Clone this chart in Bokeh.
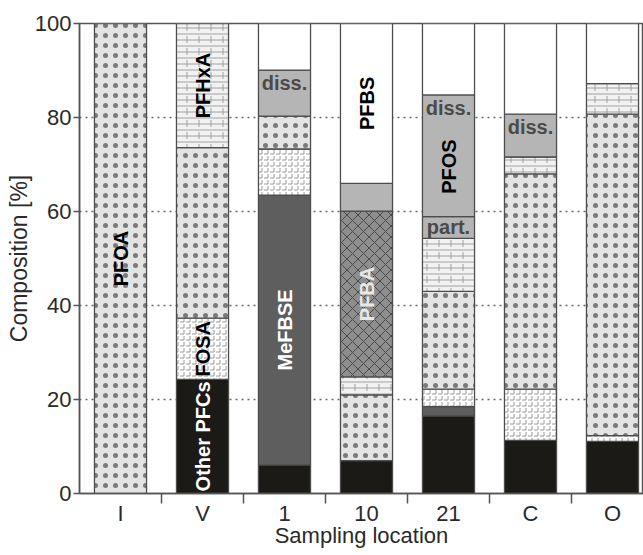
import numpy as np
from bokeh.plotting import figure
from bokeh.models import FixedTicker, ColumnDataSource
from bokeh.core.properties import value
from bokeh.embed import file_html
from bokeh.resources import INLINE

# ---------------- data (composition, %) ----------------
locations = ["I", "V", "1", "10", "21", "C", "O"]
other_pfcs = [0, 24.3, 6.1, 7.0, 16.5, 11.3, 11.1]
mefbse = [0, 0, 57.4, 0, 2.0, 0, 0]
fosa = [0, 13.0, 9.8, 0, 3.7, 10.9, 1.2]
pfoa = [100, 36.3, 7.0, 14.0, 20.8, 45.8, 68.4]
pfhxa = [0, 26.4, 0, 3.8, 11.3, 3.6, 6.5]
pfba = [0, 0, 0, 35.3, 0, 0, 0]
pfos_part = [0, 0, 0, 0, 4.6, 0, 0]
pfos_diss = [0, 0, 9.8, 5.9, 25.9, 9.1, 0]
pfbs = [0, 0, 9.9, 34.0, 15.2, 19.3, 12.8]

series_names = ["Other PFCs", "MeFBSE", "FOSA", "PFOA", "PFHxA", "PFBA",
                "PFOS part.", "PFOS diss.", "PFBS"]
series_values = [other_pfcs, mefbse, fosa, pfoa, pfhxa, pfba,
                 pfos_part, pfos_diss, pfbs]

y_ticks = [0, 20, 40, 60, 80, 100]

# rotated in-bar labels: (location, series, text)
rot_labels = [("I", "PFOA", "PFOA"), ("V", "PFHxA", "PFHxA"), ("V", "FOSA", "FOSA"),
              ("V", "Other PFCs", "Other PFCs"), ("1", "MeFBSE", "MeFBSE"),
              ("10", "PFBS", "PFBS"), ("10", "PFBA", "PFBA"), ("21", "PFOS", "PFOS")]
diss_locs = ["1", "21", "C"]
part_locs = ["21"]

# ---------------- styles ----------------
styles = {
    "Other PFCs": dict(fill_color="#1c1a17"),
    "MeFBSE": dict(fill_color="#5e5e5e"),
    "FOSA": dict(fill_color="#ffffff", hatch_pattern="horizontal_dash",
                 hatch_color="#9a9a9a", hatch_scale=6, hatch_weight=1),
    "PFOA": dict(fill_color="#e4e4e4", hatch_pattern="dot",
                 hatch_color="#7a7a7a", hatch_scale=10, hatch_weight=0.4),
    "PFHxA": dict(fill_color="#f2f2f2", hatch_pattern="horizontal_line",
                  hatch_color="#a0a0a0", hatch_scale=6, hatch_weight=1),
    "PFBA": dict(fill_color="#8e8e8e", hatch_pattern="diagonal_cross",
                 hatch_color="#4a4a4a", hatch_scale=11, hatch_weight=1),
    "PFOS part.": dict(fill_color="#b5b5b5"),
    "PFOS diss.": dict(fill_color="#b5b5b5"),
    "PFBS": dict(fill_color="#ffffff"),
}
overlays = {
    "FOSA": dict(hatch_pattern="vertical_dash", hatch_color="#9a9a9a",
                 hatch_scale=6, hatch_weight=1),
    "PFHxA": dict(hatch_pattern="vertical_dash", hatch_color="#a0a0a0",
                  hatch_scale=12, hatch_weight=1),
}

FONT = value("Liberation Sans")
BAR_W = 0.635
FRAME_W = 564
STEP = 82.0
x_pos = np.arange(len(locations))

p = figure(frame_width=FRAME_W, frame_height=470, output_backend="svg", toolbar_location=None,
           x_range=(-0.5, -0.5 + FRAME_W / STEP), y_range=(0, 100),
           min_border_left=79, min_border_right=0, min_border_top=23,
           min_border_bottom=0)
p.background_fill_color = "white"
p.border_fill_color = "white"
p.outline_line_color = "#555555"
p.outline_line_width = 1.5

vals = np.array(series_values, dtype=float)
bottoms = np.vstack([np.zeros(len(locations)), np.cumsum(vals, axis=0)[:-1]])
tops = bottoms + vals
seg = {}
for i, name in enumerate(series_names):
    seg[name] = (bottoms[i], tops[i])
    mask = vals[i] > 0
    src = ColumnDataSource(dict(x=x_pos[mask], bottom=bottoms[i][mask], top=tops[i][mask]))
    p.vbar(x="x", bottom="bottom", top="top", width=BAR_W, source=src,
           line_color=None, **styles[name])
    if name in overlays:
        p.vbar(x="x", bottom="bottom", top="top", width=BAR_W, source=src,
               fill_alpha=0, line_color=None, **overlays[name])
    p.vbar(x="x", bottom="bottom", top="top", width=BAR_W, source=src,
           fill_alpha=0, line_color="#4d4d4d", line_width=1.3)

# rotated labels
loc_index = {l: i for i, l in enumerate(locations)}
rx, ry, rt, rc = [], [], [], []
label_colors = {"Other PFCs": "white", "MeFBSE": "white", "PFBA": "#e8e8e8"}
for loc, ser, txt in rot_labels:
    j = loc_index[loc]
    if ser == "PFOS":
        b = seg["PFOS part."][0][j] if pfos_part[j] > 0 else seg["PFOS diss."][0][j]
        t = seg["PFOS diss."][1][j]
    else:
        b, t = seg[ser][0][j], seg[ser][1][j]
    rx.append(x_pos[j]); ry.append((b + t) / 2); rt.append(txt)
    rc.append(label_colors.get(ser, "black"))
p.text(x="x", y="y", text="t", text_color="c", angle=np.pi / 2,
       source=ColumnDataSource(dict(x=rx, y=ry, t=rt, c=rc)),
       text_font=FONT, text_font_style="bold", text_font_size="20px",
       text_align="center", text_baseline="middle")

# diss. / part. labels
dx = [x_pos[loc_index[l]] for l in diss_locs]
dy = [seg["PFOS diss."][1][loc_index[l]] for l in diss_locs]
p.text(x=dx, y=dy, text=["diss."] * len(dx), y_offset=13,
       text_font=FONT, text_font_style="bold", text_font_size="20px",
       text_color="#4a4a4a", text_align="center", text_baseline="middle")
px_ = [x_pos[loc_index[l]] for l in part_locs]
py_ = [(seg["PFOS part."][0][loc_index[l]] + seg["PFOS part."][1][loc_index[l]]) / 2 for l in part_locs]
p.text(x=px_, y=py_, text=["part."] * len(px_),
       text_font=FONT, text_font_style="bold", text_font_size="20px",
       text_color="#4a4a4a", text_align="center", text_baseline="middle")

# axes
xa = p.xaxis[0]
xa.ticker = FixedTicker(ticks=list(x_pos), minor_ticks=[i + 0.5 for i in range(len(locations) - 1)])
xa.major_label_overrides = {int(i): l for i, l in zip(x_pos, locations)}
xa.major_tick_out = 0
xa.major_tick_in = 0
xa.minor_tick_out = 10
xa.minor_tick_in = 0
xa.minor_tick_line_color = "#555555"
xa.minor_tick_line_width = 1.5
xa.major_label_standoff = -3
xa.major_label_text_font = "Liberation Sans"
xa.major_label_text_font_size = "22px"
xa.major_label_text_color = "#2a2a2a"
xa.axis_label = "Sampling location"
xa.axis_label_text_font = "Liberation Sans"
xa.axis_label_text_font_size = "22px"
xa.axis_label_text_font_style = "normal"
xa.axis_label_text_color = "#2a2a2a"
xa.axis_label_standoff = -6
xa.axis_line_color = "#555555"
xa.axis_line_width = 1.5

ya = p.yaxis[0]
ya.ticker = FixedTicker(ticks=y_ticks, minor_ticks=[])
ya.major_tick_out = 6
ya.major_tick_in = 0
ya.major_tick_line_color = "#555555"
ya.major_tick_line_width = 1.5
ya.major_label_standoff = 2
ya.major_label_text_font = "Liberation Sans"
ya.major_label_text_font_size = "22px"
ya.major_label_text_color = "#2a2a2a"
ya.axis_label = "Composition [%]"
ya.axis_label_text_font = "Liberation Sans"
ya.axis_label_text_font_size = "23px"
ya.axis_label_text_font_style = "normal"
ya.axis_label_text_color = "#2a2a2a"
ya.axis_label_standoff = 0
ya.axis_line_color = "#555555"
ya.axis_line_width = 1.5

p.xgrid.grid_line_color = None
p.ygrid.grid_line_color = "#666666"
p.ygrid.grid_line_dash = "2 4"
p.ygrid.grid_line_width = 1.5

open("out.html", "w").write(file_html(p, INLINE))
